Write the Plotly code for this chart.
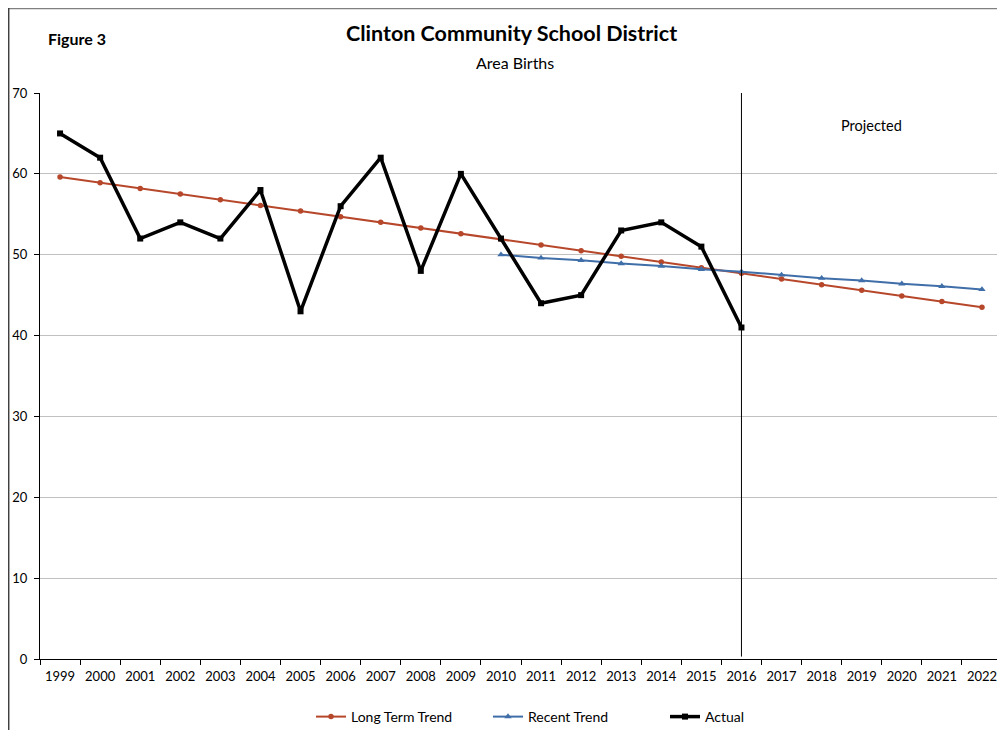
import plotly.graph_objects as go

years = [str(y) for y in range(1999, 2023)]

long_term = [59.6, 58.9, 58.2, 57.5, 56.8, 56.1, 55.4, 54.7, 54.0, 53.3, 52.6, 51.9,
             51.2, 50.5, 49.8, 49.1, 48.4, 47.7, 47.0, 46.3, 45.6, 44.9, 44.2, 43.5]

recent_years = [str(y) for y in range(2010, 2023)]
recent = [50.0, 49.6, 49.3, 48.9, 48.6, 48.2, 47.9, 47.5, 47.1, 46.8, 46.4, 46.1, 45.7]

actual_years = [str(y) for y in range(1999, 2017)]
actual = [65, 62, 52, 54, 52, 58, 43, 56, 62, 48, 60, 52, 44, 45, 53, 54, 51, 41]

projection_start = "2016"

RED = "#B7472A"
BLUE = "#3F6EA8"
FONT = "Lato"

# figure is placed at an 8px offset inside the page; coordinates below are figure px
W, H = 997, 722
L, T, R, B = 32, 85, 3, 71
PW, PH = W - L - R, H - T - B


def px(xf):
    return (xf - L) / PW


def py(yf):
    return 1 - (yf - T) / PH


fig = go.Figure()
fig.add_trace(go.Scatter(x=years, y=long_term, name="Long Term Trend", mode="lines+markers",
                         line=dict(color=RED, width=2), marker=dict(symbol="circle", size=5.5, color=RED)))
fig.add_trace(go.Scatter(x=recent_years, y=recent, name="Recent Trend", mode="lines+markers",
                         line=dict(color=BLUE, width=2), marker=dict(symbol="triangle-up", size=6.5, color=BLUE)))
fig.add_trace(go.Scatter(x=actual_years, y=actual, name="Actual", mode="lines+markers",
                         line=dict(color="black", width=3.5), marker=dict(symbol="square", size=6, color="black")))

# vertical projection line
xi = years.index(projection_start)
fig.add_shape(type="line", xref="x", yref="y", x0=xi, x1=xi,
              y0=0.3, y1=70.3, line=dict(color="black", width=1))

# chart border (top and left)
fig.add_shape(type="line", xref="paper", yref="paper", x0=px(0), x1=px(W), y0=py(0.5), y1=py(0.5),
              line=dict(color="#808080", width=1.5))
fig.add_shape(type="line", xref="paper", yref="paper", x0=px(0.7), x1=px(0.7), y0=py(0), y1=py(H),
              line=dict(color="#404040", width=1.5))

fig.add_annotation(text="<b>Clinton Community School District</b>", xref="paper", yref="paper",
                   x=px(503), y=py(25), showarrow=False,
                   font=dict(family=FONT, size=21.5, color="black"), xanchor="center", yanchor="middle")
fig.add_annotation(text="Area Births", xref="paper", yref="paper",
                   x=px(507), y=py(54), showarrow=False,
                   font=dict(family=FONT, size=16, color="black"), xanchor="center", yanchor="middle")
fig.add_annotation(text="<b>Figure 3</b>", xref="paper", yref="paper",
                   x=px(38), y=py(31), showarrow=False,
                   font=dict(family=FONT, size=16, color="black"), xanchor="left", yanchor="middle")
fig.add_annotation(text="Projected", xref="paper", yref="paper",
                   x=px(863), y=py(118), showarrow=False,
                   font=dict(family=FONT, size=14.5, color="black"), xanchor="center", yanchor="middle")

fig.update_layout(
    width=W, height=H,
    margin=dict(l=L, r=R, t=T, b=B, autoexpand=False),
    paper_bgcolor="white", plot_bgcolor="white",
    font=dict(family=FONT, size=13, color="black"),
    showlegend=True,
    legend=dict(orientation="h", x=px(303), xanchor="left", y=py(709), yanchor="middle",
                entrywidth=132, entrywidthmode="pixels", font=dict(family=FONT, size=14),
                bgcolor="rgba(0,0,0,0)", itemwidth=30),
    xaxis=dict(type="category", categoryorder="array", categoryarray=years,
               tickson="boundaries", ticks="outside", ticklen=5, tickcolor="black",
               showline=True, linecolor="black", linewidth=1, showgrid=False, zeroline=False,
               range=[-0.5, 23.5], tickfont=dict(size=13), ticklabelstandoff=5, automargin=False),
    yaxis=dict(range=[0, 70], dtick=10, ticks="outside", ticklen=5, tickcolor="black",
               showline=True, linecolor="black", linewidth=1, showgrid=True, gridcolor="#C0C0C0",
               gridwidth=1, zeroline=False, tickfont=dict(size=13), ticklabelstandoff=4,
               automargin=False),
)

fig.write_html("out.html")
